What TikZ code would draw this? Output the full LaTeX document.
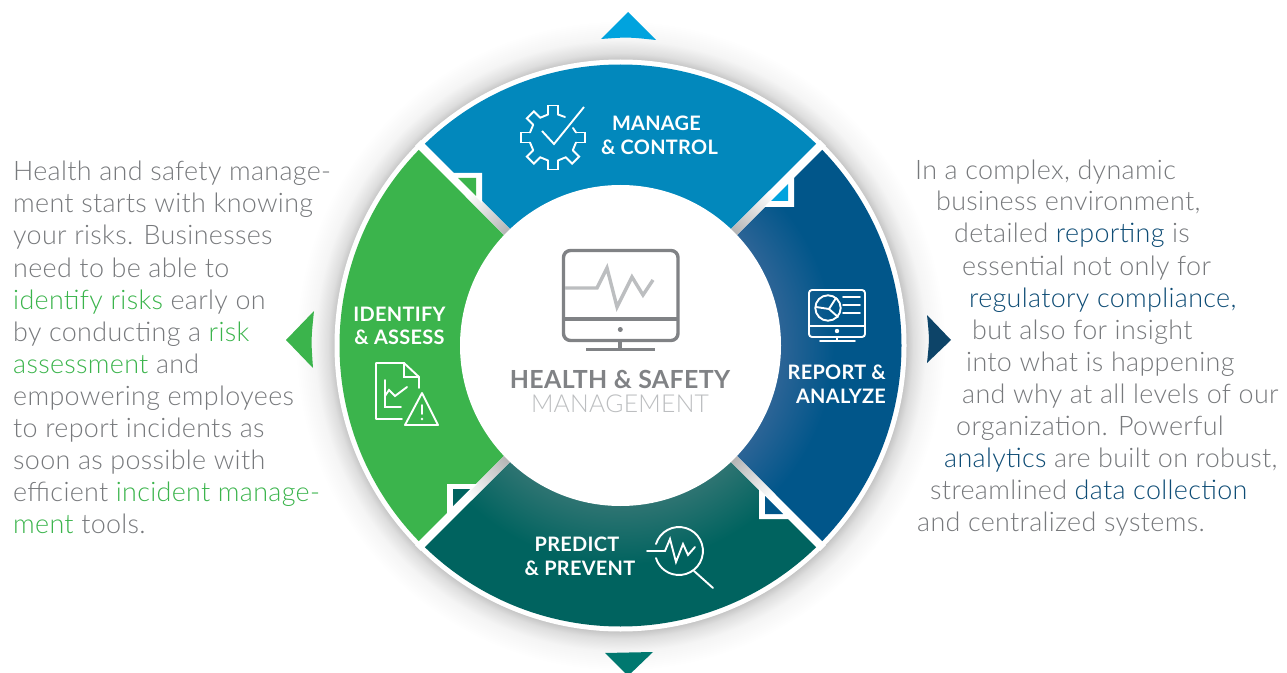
\documentclass[tikz,border=0pt]{standalone}
\usepackage{fontspec}
\setmainfont{Lato}
\newfontfamily\lightf{Lato Light}[LetterSpace=1.2]
\newfontfamily\headf{Lato}[BoldFont=* Bold,LetterSpace=1.5]
\definecolor{txtgray}{HTML}{77797C}
\definecolor{iconic}{HTML}{808285}
\definecolor{lgray}{HTML}{BCBEC0}
\definecolor{grn}{HTML}{3BB44C}
\definecolor{nvy}{HTML}{0E4C75}
\definecolor{topb}{HTML}{0288BC}
\definecolor{lblue}{HTML}{00A3DE}
\definecolor{dblue}{HTML}{01568A}
\definecolor{lteal}{HTML}{2E7472}
\definecolor{teal}{HTML}{00635F}
\definecolor{ldblue}{HTML}{2C6496}
\definecolor{rtri}{HTML}{0D4468}
\definecolor{btri}{HTML}{00786F}
\pgfdeclareradialshading{ringshadow}{\pgfpointorigin}{color(0bp)=(black!24);color(21.9bp)=(black!24);color(22.5bp)=(black!13);color(23.5bp)=(black!4);color(25bp)=(white);color(50bp)=(white)}
\pgfdeclareradialshading{blueglow}{\pgfpointorigin}{color(0bp)=(ldblue);color(14.25bp)=(ldblue);color(19bp)=(dblue);color(50bp)=(dblue)}
\pgfdeclareradialshading{tealglow}{\pgfpointorigin}{color(0bp)=(lteal);color(14.25bp)=(lteal);color(19.5bp)=(teal);color(50bp)=(teal)}
\pgfdeclareradialshading{gapglow}{\pgfpointorigin}{color(0bp)=(black!30);color(18.5bp)=(black!30);color(25bp)=(white);color(50bp)=(white)}
\tikzset{
  para/.style={inner sep=0pt,anchor=base west,text=txtgray,font=\lightf\fontsize{27}{27}\selectfont},
  lab/.style={inner sep=0pt,anchor=base,text=white,font=\headf\bfseries\fontsize{20}{20}\selectfont},
  iconline/.style={draw=white,line width=1.9bp,line cap=round,line join=miter},
}
\newcommand{\gr}[1]{\textcolor{grn}{#1}}
\newcommand{\nv}[1]{\textcolor{nvy}{#1}}
\begin{document}
\begin{tikzpicture}[x=1bp,y=-1bp]
\useasboundingbox (0,0) rectangle (1287,673);
\coordinate (c) at (620.5,345.5);
% shadow + ring
\shade[shading=ringshadow] (c) circle[radius=325];
\fill[white] (c) circle[radius=286];
% sectors
\fill[topb] (c) -- ++(225:281) arc[start angle=225,end angle=315,radius=281] -- cycle;
\fill[grn] (c) -- ++(135:281) arc[start angle=135,end angle=225,radius=281] -- cycle;
\begin{scope}
\clip (c) -- ++(-45:281) arc[start angle=-45,end angle=45,radius=281] -- cycle;
\shade[shading=blueglow] (c) circle[radius=281];
\end{scope}
\begin{scope}
\clip (c) -- ++(45:281) arc[start angle=45,end angle=135,radius=281] -- cycle;
\shade[shading=tealglow] (c) circle[radius=281];
\end{scope}
% gaps
\fill[white,rotate around={45:(c)}] (334,341.3) rectangle (907,349.7);
\fill[white,rotate around={-45:(c)}] (334,341.3) rectangle (907,349.7);
\begin{scope}
\clip[rotate around={45:(c)}] (334,341.3) rectangle (907,349.7);
\shade[shading=gapglow] (c) circle[radius=215];
\end{scope}
\begin{scope}
\clip[rotate around={-45:(c)}] (334,341.3) rectangle (907,349.7);
\shade[shading=gapglow] (c) circle[radius=215];
\end{scope}
\fill[white] (c) circle[radius=160.5];
% outer triangles
\fill[lblue] (601,39) -- (628,12) -- (656,40) .. controls (628,37) .. cycle;
\fill[grn] (314,311) -- (286,340) -- (313,368) .. controls (311,340) .. cycle;
\fill[rtri] (927,315) -- (951,340) -- (927,363) .. controls (929.5,339) .. cycle;
\fill[btri] (605,653) -- (628,676) -- (653,652) .. controls (629,653.5) .. cycle;
% small corner triangles
\fill[white] (452,173) -- (482,173) -- (482,203) -- cycle;
\fill[grn] (458,178) -- (476,178) -- (476,196) -- cycle;
\fill[white] (794,177) -- (794,207) -- (764,207) -- cycle;
\fill[lblue] (788,184) -- (788,201) -- (771,201) -- cycle;
\fill[white] (759,489) -- (759,519) -- (789,519) -- cycle;
\fill[dblue] (765,496) -- (765,514) -- (783,514) -- cycle;
\fill[white] (447,484) -- (477,484) -- (447,514) -- cycle;
\fill[teal] (453,489) -- (470,489) -- (453,506) -- cycle;
% gear icon
\begin{scope}[shift={(553,137.5)},iconline]
\foreach \a in {0,90,135,180,225,270,315}
  \draw[rotate=\a] (23,5) -- (32,5) -- (32,-5) -- (23,-5);
\foreach \a in {90,135,180,225,270}
  \draw[rotate=\a] (23,-5) -- (19.8,-12.7);
\draw[rotate=315] (23,-5) -- (19.8,-12.7);
\draw (5,-23) -- (12,-20.5);
\draw (23,-5) -- (20,-9.5);
\draw[line cap=butt] (-11,-6.5) -- (1,6.5) -- (31,-30.5);
\end{scope}
% doc icon
\draw[iconline,line join=round] (402,419) -- (376,419) -- (376,363) -- (404,363) -- (419,377) -- (419,388);
\draw[iconline] (404,363) -- (404,377) -- (419,377);
\draw[iconline] (385,380) -- (385,407) -- (401,407);
\draw[iconline] (385,396) -- (389,390) -- (395,396) -- (407,387);
\draw[iconline,line join=round] (422,393) -- (438,425) -- (405,425) -- cycle;
\draw[iconline] (422,405) -- (422,414);
\fill[white] (422,419) circle[radius=1.4];
% report icon
\draw[iconline,rounded corners=3bp] (809,290) rectangle (865,337);
\draw[iconline] (809,326) -- (865,326);
\fill[white] (837,331) circle[radius=2.2];
\draw[iconline] (837,337) -- (837,341);
\draw[iconline] (820,341) -- (855,341);
\draw[iconline] (828,308) circle[radius=12.7];
\draw[iconline] (836,298) -- (829,309) -- (816,307);
\draw[iconline] (829,309) -- (838,317);
\draw[iconline] (843,297) -- (860,297);
\draw[iconline] (843,305) -- (860,305);
\draw[iconline] (843,313) -- (860,313);
% magnifier icon
\draw[iconline] (656,544) arc[start angle=197,end angle=523,radius=24];
\draw[iconline] (647,551) -- (665,551) -- (670,539) -- (676,562) -- (683,544) -- (688,555) -- (695,547);
\draw[iconline] (694,571) -- (713,588);
% centre monitor
\draw[iconic,line width=3.4bp,rounded corners=7bp] (563.5,250.5) rectangle (678,340.5);
\draw[iconic,line width=3.2bp] (564,319) -- (678,319);
\fill[iconic] (620.3,329.5) circle[radius=2.5];
\draw[iconic,line width=3.2bp] (620,341) -- (620,349);
\draw[iconic,line width=3.4bp] (586,349.5) -- (655,349.5);
\draw[lgray,line width=3.4bp] (565,288) -- (597,288) -- (607,268) -- (617,307) -- (632,277) -- (643,295) -- (653,280);
% central labels
\node[inner sep=0pt,anchor=base,text=iconic,font=\headf\bfseries\fontsize{25}{25}\selectfont] (hs) at (620,388) {HEALTH \& SAFETY};
\node[inner sep=0pt,anchor=base,text=lgray,font=\lightf\fontsize{24.8}{24.8}\selectfont] (mg) at (620,412) {MANAGEMENT};
% sector labels
\node[lab] (m1) at (656.5,130.5) {MANAGE};
\node[lab] (m2) at (659.5,154.5) {\& CONTROL};
\node[lab] (i1) at (399.5,321) {IDENTIFY};
\node[lab] (i2) at (399.5,344) {\& ASSESS};
\node[lab,anchor=base east] (r1) at (886,379.5) {REPORT \&};
\node[lab,anchor=base east] (r2) at (886,403) {ANALYZE};
\node[lab] (p1) at (577,551) {PREDICT};
\node[lab] (p2) at (580,575) {\& PREVENT};
% left paragraph
\node[para] (l1) at (13,181) {Health and safety manage-};
\node[para] (l2) at (13,213) {ment starts with knowing};
\node[para] (l3) at (13,245) {your risks. Businesses};
\node[para] (l4) at (13,277) {need to be able to};
\node[para] (l5) at (13,309) {\gr{identify risks} early on};
\node[para] (l6) at (13,341) {by conducting a \gr{risk}};
\node[para] (l7) at (13,373) {\gr{assessment} and};
\node[para] (l8) at (13,405) {empowering employees};
\node[para] (l9) at (13,437) {to report incidents as};
\node[para] (l10) at (13,469) {soon as possible with};
\node[para] (l11) at (13,501) {efficient \gr{incident manage-}};
\node[para] (l12) at (13,533) {\gr{ment} tools.};
% right paragraph
\node[para] (t1) at (915,180) {In a complex, dynamic};
\node[para] (t2) at (936,211) {business environment,};
\node[para] (t3) at (954,243) {detailed \nv{reporting} is};
\node[para] (t4) at (962,275) {essential not only for};
\node[para] (t5) at (969,307) {\nv{regulatory compliance,}};
\node[para] (t6) at (972,339) {but also for insight};
\node[para] (t7) at (966,371) {into what is happening};
\node[para] (t8) at (962,403) {and why at all levels of our};
\node[para] (t9) at (956,435) {organization. Powerful};
\node[para] (t10) at (944,467) {\nv{analytics} are built on robust,};
\node[para] (t11) at (930,499) {streamlined \nv{data collection}};
\node[para] (t12) at (917,531) {and centralized systems.};
\end{tikzpicture}
\end{document}
